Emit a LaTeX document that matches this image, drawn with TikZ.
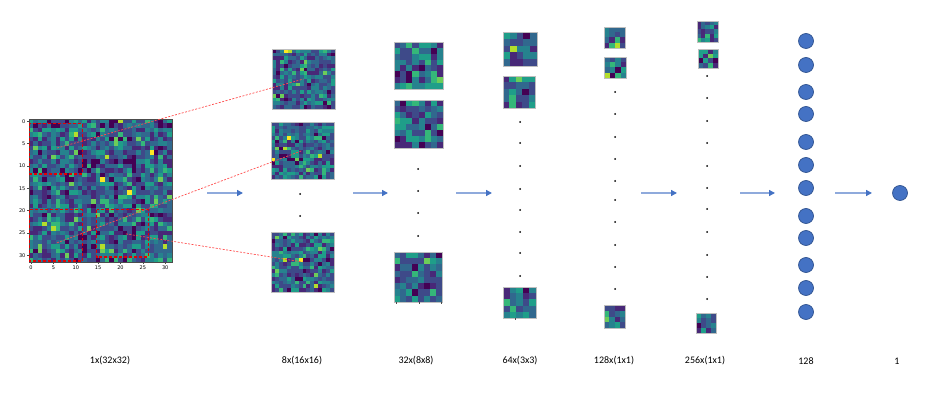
\documentclass[tikz,border=0pt]{standalone}
\usepackage{fontspec}
\setmainfont{Carlito}
\newfontfamily\tickfont{DejaVu Sans}
\usetikzlibrary{arrows.meta,positioning,calc}

\definecolor{vir0}{RGB}{68,1,84}
\definecolor{vir1}{RGB}{72,40,120}
\definecolor{vir2}{RGB}{62,74,137}
\definecolor{vir3}{RGB}{49,104,142}
\definecolor{vir4}{RGB}{38,130,142}
\definecolor{vir5}{RGB}{31,158,137}
\definecolor{vir6}{RGB}{53,183,121}
\definecolor{vir7}{RGB}{109,205,89}
\definecolor{vir8}{RGB}{180,222,44}
\definecolor{vir9}{RGB}{253,231,37}
\definecolor{unitblue}{RGB}{68,114,196}
\definecolor{unitedge}{RGB}{47,82,143}
\definecolor{flowline}{RGB}{143,170,220}

% pick a viridis shade, weighted towards the blues
\newcommand\pickvir[1]{%
  \ifnum#1<50 \def\vc{vir0}\else
  \ifnum#1<200 \def\vc{vir1}\else
  \ifnum#1<450 \def\vc{vir2}\else
  \ifnum#1<650 \def\vc{vir3}\else
  \ifnum#1<800 \def\vc{vir4}\else
  \ifnum#1<910 \def\vc{vir5}\else
  \ifnum#1<965 \def\vc{vir6}\else
  \ifnum#1<990 \def\vc{vir7}\else
  \ifnum#1<996 \def\vc{vir8}\else
  \def\vc{vir9}\fi\fi\fi\fi\fi\fi\fi\fi\fi}

% a named feature map: node, x, y, width, height, cells per side
\newcommand\featmap[6]{%
  \node[fmap, minimum width=#4, minimum height=#5] (#1) at (#2,#3) {};
  \begin{scope}[shift={(#1.north west)}]
    \pgfmathsetmacro\cw{#4/#6}
    \pgfmathsetmacro\ch{#5/#6}
    \foreach \i in {1,...,#6}
      \foreach \j in {1,...,#6} {
        \pgfmathrandominteger{\k}{0}{999}
        \pickvir{\k}
        \fill[fill=\vc] ({(\i-1)*\cw},{(\j-1)*\ch}) rectangle ++(\cw,\ch);
      }
  \end{scope}
  \draw[mapedge] (#1.north west) rectangle (#1.south east);}

\begin{document}
\begin{tikzpicture}[x=1pt, y=-1pt,
    fmap/.style={inner sep=0, outer sep=0},
    mapedge/.style={draw=black!25, line width=0.5},
    axis/.style={draw=black!70, line width=0.4},
    ticklab/.style={font=\tickfont\fontsize{5}{6}\selectfont, inner sep=1pt},
    redbox/.style={draw=red!90!black, line width=1.4, dash pattern=on 3pt off 2pt},
    link/.style={draw=red!70, line width=0.7, dash pattern=on 2pt off 1.5pt},
    vdot/.style={circle, fill=black, inner sep=0, minimum size=2},
    unit/.style={circle, fill=unitblue, draw=unitedge, line width=0.7, inner sep=0, minimum size=15},
    flow/.style={draw=flowline, line width=1.3, -{Triangle[length=6pt, width=6pt, color=unitblue]}},
    lab/.style={font=\fontsize{10}{12}\selectfont}]
  \useasboundingbox (0,0) rectangle (926,395);
  \pgfmathsetseed{11}

  % input image with axes
  \featmap{big}{100.35}{190.5}{143}{143}{32}
  \draw[axis] (big.north west) rectangle (big.south east);
  \begin{scope}[shift={(big.north west)}, x=4.47pt, y=-4.47pt]
    \foreach \t in {0,5,...,30} {
      \draw[axis] (\t+0.5,32) -- ++(0,0.5) node[below, ticklab] (tx\t) {\t};
      \draw[axis] (0,\t+0.5) -- ++(-0.5,0) node[left, ticklab] (ty\t) {\t};
    }
    \draw[redbox] (0.15,1) rectangle (12,12.3);
    \draw[redbox] (0.15,20.3) rectangle (12,31.8);
    \draw[redbox] (15.2,20.3) rectangle (26.7,30.9);
    \coordinate (src1) at (6.3,6.5);
    \coordinate (src2) at (6.3,27.7);
    \coordinate (src3) at (21.7,25.7);
  \end{scope}

  % 8x(16x16)
  \featmap{m16a}{303.5}{79}{63}{60}{16}
  \featmap{m16b}{302.5}{150.5}{63}{57}{16}
  \featmap{m16c}{302.5}{262}{63}{60}{16}
  \foreach \y in {194,216} \node[vdot] (d16-\y) at (300,\y) {};

  % 32x(8x8)
  \featmap{m8a}{418.5}{65.5}{49}{47}{8}
  \featmap{m8b}{418.5}{124}{49}{48}{8}
  \featmap{m8c}{418}{277}{48}{50}{8}
  \foreach \y in {169,191,213,236} \node[vdot] (d8-\y) at (418,\y) {};
  \foreach \x in {396,419,441} \draw[axis] (\x,302) -- ++(0,1.5);

  % 64x(3x3)
  \featmap{m3a}{520}{49}{34}{34}{5}
  \featmap{m3b}{519}{92}{32}{32}{5}
  \featmap{m3c}{519.5}{302.5}{33}{31}{5}
  \foreach \y in {122,143,166,189,210,232,253,276} \node[vdot] (d3-\y) at (520,\y) {};
  \draw[axis] (515,318) -- ++(0,1.5);

  % 128x(1x1)
  \featmap{m1a}{614.5}{37.5}{21}{21}{4}
  \featmap{m1b}{615}{67.5}{22}{21}{4}
  \featmap{m1c}{614.5}{316.5}{21}{23}{4}
  \foreach \y in {92,114,137,159,181,200,222,245,267,289} \node[vdot] (d1-\y) at (615,\y) {};

  % 256x(1x1)
  \featmap{m2a}{707.5}{31.5}{21}{21}{5}
  \featmap{m2b}{708}{58.5}{20}{19}{4}
  \featmap{m2c}{706}{323}{20}{20}{4}
  \foreach \y in {76,98,121,143,166,188,209,232,255,277,299} \node[vdot] (d2-\y) at (707,\y) {};

  % dense layer and output
  \foreach \y [count=\n] in {41,65,92,114,142,165,188,216,238,265,288,312}
    \node[unit] (u\n) at (806,\y) {};
  \node[unit] (out) at (900,193) {};

  % receptive fields
  \draw[link] (src1) -- (m16a.center);
  \draw[link] (src2) -- (m16b.center);
  \draw[link] (src3) -- (m16c.center);

  % flow between layers
  \foreach \xa/\xb [count=\n] in {207/243, 353/388, 456/492, 641/677, 740/775, 835/872} {
    \coordinate (fs\n) at (\xa,193);
    \coordinate (fe\n) at (\xb,193);
    \draw[flow] (fs\n) -- (fe\n);
  }

  % layer sizes
  \node[lab] (l1) at (110,361) {1x(32x32)};
  \node[lab] (l2) at (302,361) {8x(16x16)};
  \node[lab] (l3) at (416,361) {32x(8x8)};
  \node[lab] (l4) at (520,361) {64x(3x3)};
  \node[lab] (l5) at (614,361) {128x(1x1)};
  \node[lab] (l6) at (705,361) {256x(1x1)};
  \node[lab] (l7) at (806,361) {128};
  \node[lab] (l8) at (897,361) {1};
\end{tikzpicture}
\end{document}
